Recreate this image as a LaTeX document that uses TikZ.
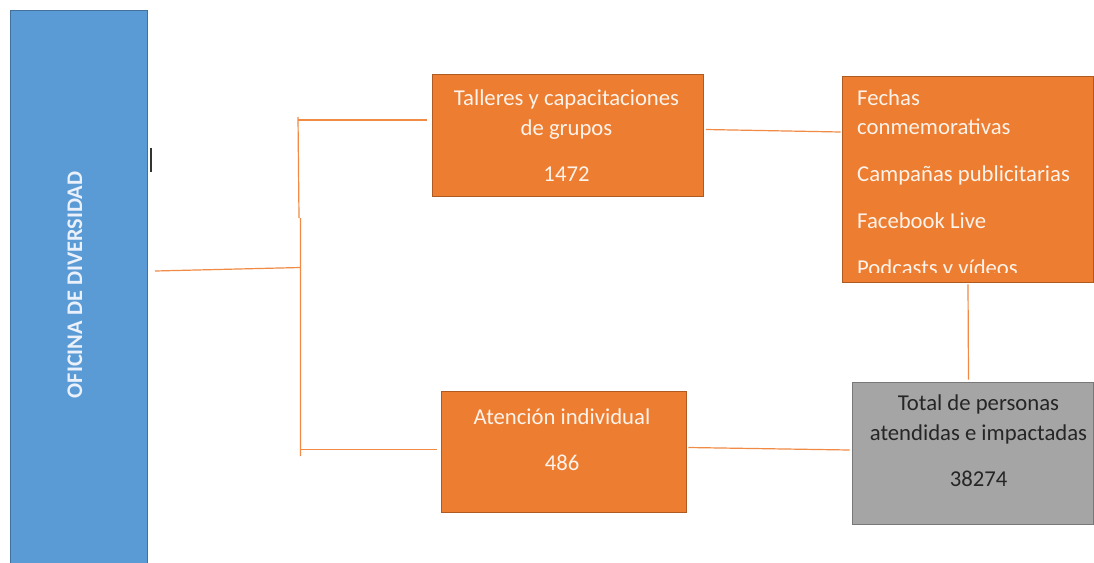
\documentclass[tikz,border=0pt]{standalone}
\usepackage{fontspec}
\setmainfont{Carlito}
\usetikzlibrary{calc}
\definecolor{bluefill}{HTML}{5B9BD5}
\definecolor{blueline}{HTML}{41719C}
\definecolor{orfill}{HTML}{ED7D31}
\definecolor{orline}{HTML}{AE5A21}
\definecolor{grfill}{HTML}{A5A5A5}
\definecolor{grline}{HTML}{787878}
\definecolor{conncol}{HTML}{F08A44}
\definecolor{lighttext}{HTML}{FDF3EA}
\definecolor{bartext}{HTML}{EAF1FA}
\begin{document}
\begin{tikzpicture}[x=1pt,y=-1pt,
  barbox/.style={draw=blueline,fill=bluefill,line width=0.8pt,inner sep=0pt,minimum width=137pt,minimum height=560pt},
  orbox/.style={draw=orline,fill=orfill,line width=0.8pt,inner sep=0pt},
  grbox/.style={draw=grline,fill=grfill,line width=0.8pt,inner sep=0pt},
  conn/.style={draw=conncol,line width=1.2pt},
  txt/.style={font=\fontsize{22.7}{27}\selectfont,inner sep=0pt,anchor=base},
  ltxt/.style={txt,text=lighttext},
  dtxt/.style={txt,text=black!85}]
\useasboundingbox (0,0) rectangle (1094,562);
\fill[white] (0,0) rectangle (1094,562);
% left bar
\node[barbox] (ofi) at (78.5,290) {};
\node[txt,font=\fontsize{22.3}{27}\selectfont\bfseries,text=bartext,rotate=90] (ofit) at (82,285) {OFICINA DE DIVERSIDAD};
% cursor mark
\coordinate (m1) at (151,148);
\coordinate (m2) at (151,172);
\draw[black!80,line width=1.4pt] (m1) -- (m2);
% boxes
\node[orbox,minimum width=271pt,minimum height=122pt] (tal) at (568,135.5) {};
\node[orbox,minimum width=251pt,minimum height=206pt] (med) at (967.5,179) {};
\node[orbox,minimum width=245pt,minimum height=121pt] (ate) at (563.5,451.5) {};
\node[grbox,minimum width=241pt,minimum height=142pt] (tot) at (972.5,453) {};
% texts
\node[ltxt] (t1) at (566.5,105) {Talleres y capacitaciones};
\node[ltxt] (t2) at (566.5,135) {de grupos};
\node[ltxt] (t3) at (566.5,181.5) {1472};
\begin{scope}
\clip (843,77) rectangle (1092,272);
\node[ltxt,anchor=base west] (m1t) at (857,105) {Fechas};
\node[ltxt,anchor=base west] (m2t) at (857,134.5) {conmemorativas};
\node[ltxt,anchor=base west] (m3t) at (857,181) {Campañas publicitarias};
\node[ltxt,anchor=base west] (m4t) at (857,228) {Facebook Live};
\node[ltxt,anchor=base west] (m5t) at (857,275) {Podcasts y vídeos};
\end{scope}
\node[ltxt] (a1) at (562,424) {Atención individual};
\node[ltxt] (a2) at (562,470.5) {486};
\node[dtxt] (o1) at (978.5,410.5) {Total de personas};
\node[dtxt] (o2) at (978.5,440) {atendidas e impactadas};
\node[dtxt] (o3) at (978.5,486.5) {38274};
% connectors
\coordinate (s) at (155,271);
\coordinate (j) at (300.5,267.5);
\coordinate (vt) at (298,117);
\coordinate (ht) at (298,120);
\coordinate (vk1) at (299,218);
\coordinate (vk2) at (300.5,218);
\coordinate (vb) at (300.5,456);
\coordinate (hb) at (300.5,449.5);
\draw[conn] (s) -- (j);
\draw[conn] (vt) -- (vk1) (vk2) -- (vb);
\draw[conn] (ht) -- ($(tal.west |- ht)+(-5,0)$);
\draw[conn] (hb) -- ($(ate.west |- hb)+(-4,0)$);
\draw[conn] ($(tal.east)+(2,-6)$) -- ($(med.west)+(-1,-47)$);
\draw[conn] ($(med.south)+(0.5,2)$) -- ($(tot.north)+(-4,-2)$);
\draw[conn] ($(ate.east)+(2,-4)$) -- ($(tot.west)+(-2,-3)$);
\end{tikzpicture}
\end{document}
